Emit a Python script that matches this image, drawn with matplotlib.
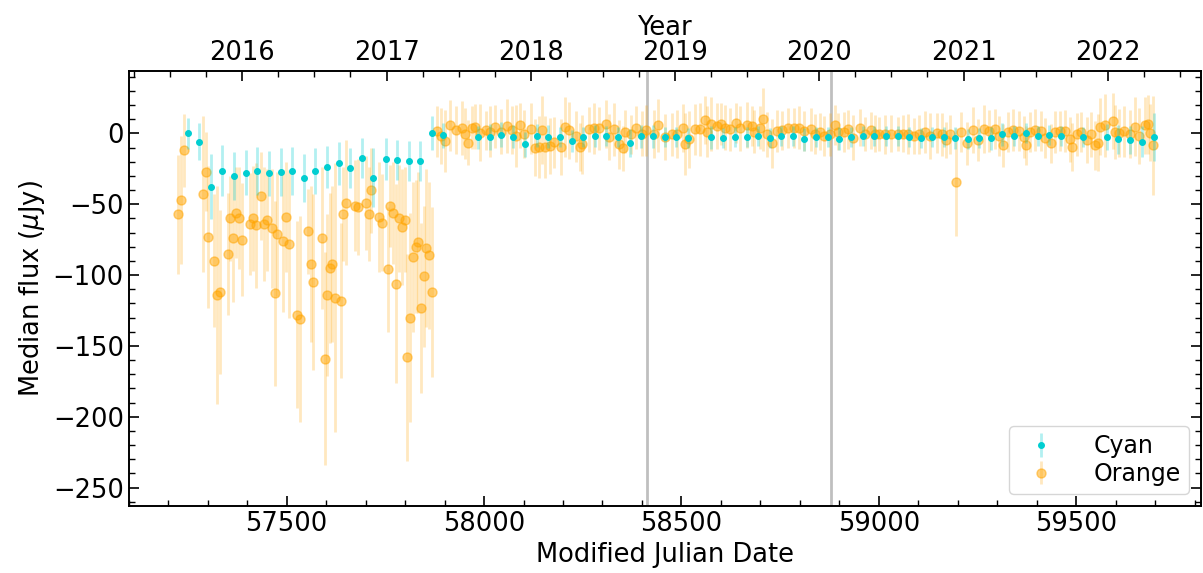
"""
Median flux light curve, cyan vs orange bands
"""
import numpy as np
import matplotlib.pyplot as plt
from matplotlib.ticker import MultipleLocator, FixedLocator

# cyan band: MJD, median flux (uJy), error
cyan_mjd = [57249, 57278, 57308, 57337, 57367, 57397, 57426, 57455, 57485, 57514,
            57544, 57573, 57601, 57632, 57661, 57691, 57720, 57751, 57780, 57810,
            57839, 57869, 57897, 57985, 58015, 58044, 58074, 58103, 58134, 58162,
            58192, 58222, 58251, 58281, 58310, 58340, 58369, 58398, 58427, 58458,
            58487, 58516, 58576, 58605, 58635, 58665, 58694, 58724, 58752, 58782,
            58811, 58841, 58870, 58900, 58930, 58959, 58989, 59018, 59048, 59077,
            59106, 59135, 59165, 59194, 59225, 59254, 59283, 59313, 59342, 59372,
            59402, 59431, 59461, 59518, 59578, 59607, 59637, 59666, 59696]
cyan_flux = [0.0, -5.9, -37.7, -26.4, -30.1, -27.8, -26.6, -28.2, -27.3, -26.4,
             -31.3, -26.6, -23.8, -21.2, -24.3, -17.2, -31.3, -18.1, -18.6, -19.5,
             -19.3, 0.0, -1.4, -2.8, -2.4, -0.9, -2.4, -7.8, -1.6, -2.4,
             -2.4, -5.4, -2.4, -1.9, -1.9, -2.4, -6.6, -2.1, -2.1, -2.8,
             -2.4, -3.3, -2.8, -3.1, -2.4, -2.8, -2.1, -3.5, -1.9, -1.9,
             -4.2, -2.6, -2.6, -3.8, -2.6, -2.1, -1.9, -2.1, -2.1, -2.6,
             -3.1, -2.8, -2.8, -3.3, -3.8, -3.3, -3.5, -0.7, -1.9, 0.2,
             -2.1, -0.9, -2.1, -2.8, -2.6, -4.2, -4.9, -5.9, -2.4]
cyan_err = [11, 13, 23, 18, 17, 16, 17, 16, 17, 17,
            17, 16, 15, 15, 14, 14, 21, 15, 14, 14,
            14, 12, 9, 8, 9, 9, 8, 9, 8, 8,
            7, 8, 7, 8, 7, 7, 10, 8, 8, 7,
            7, 7, 8, 7, 7, 7, 7, 7, 7, 7,
            8, 7, 7, 8, 7, 7, 7, 7, 7, 7,
            7, 7, 7, 8, 7, 7, 8, 8, 7, 7,
            7, 7, 7, 7, 9, 10, 10, 11, 17]

# orange band
orange_mjd = [57225, 57232, 57239, 57288, 57295, 57302, 57316, 57323, 57330, 57351,
              57357, 57365, 57372, 57379, 57386, 57406, 57415, 57422, 57434, 57442,
              57449, 57463, 57470, 57476, 57491, 57498, 57505, 57526, 57533, 57554,
              57561, 57568, 57589, 57596, 57602, 57609, 57616, 57623, 57637, 57644,
              57651, 57673, 57680, 57701, 57708, 57714, 57735, 57742, 57756, 57763,
              57770, 57778, 57784, 57792, 57799, 57806, 57813, 57820, 57827, 57833,
              57840, 57848, 57854, 57861, 57868,
              57881, 57890, 57901, 57915, 57930, 57943, 57953, 57960, 57970, 57978,
              57991, 58004, 58016, 58029, 58042, 58058, 58070, 58080, 58092, 58101,
              58120, 58129, 58139, 58147, 58154, 58168, 58177, 58196, 58205, 58215,
              58232, 58242, 58249, 58265, 58278, 58292, 58308, 58316, 58328, 58343,
              58351, 58358, 58373, 58385, 58401, 58411, 58430, 58441, 58459, 58475,
              58489, 58504, 58510, 58519, 58535, 58546, 58559, 58565, 58575, 58589,
              58600, 58611, 58624, 58637, 58649, 58665, 58679, 58685, 58700, 58707,
              58717, 58729, 58741, 58755, 58770, 58784, 58798, 58811, 58827, 58839,
              58852, 58862, 58877, 58889, 58896, 58913, 58921, 58934, 58953, 58964,
              58979, 58990, 59001, 59016, 59031, 59048, 59061, 59075, 59090, 59103,
              59116, 59130, 59147, 59160, 59170, 59181, 59196, 59209, 59223, 59238,
              59251, 59266, 59278, 59293, 59304, 59314, 59327, 59341, 59354, 59367,
              59372, 59384, 59395, 59410, 59421, 59435, 59446, 59458, 59471, 59483,
              59489, 59502, 59513, 59527, 59538, 59548, 59555, 59561, 59573, 59594,
              59599, 59609, 59622, 59637, 59650, 59658, 59673, 59682, 59688, 59694]
orange_flux = [-57, -47, -12, -43, -27, -73, -90, -114, -112, -85,
               -60, -74, -56, -60, -75, -64, -60, -65, -44, -64,
               -61, -67, -113, -71, -76, -59, -78, -128, -131, -69,
               -92, -105, -74, -159, -114, -95, -92, -116, -118, -57,
               -49, -51, -52, -49, -57, -40, -59, -63, -96, -51,
               -56, -106, -60, -66, -61, -158, -130, -87, -80, -77,
               -123, -101, -81, -86, -112,
               1.6, -1.9, -5.4, 5.9, 2.1, 4.0, -0.2, -6.6, 4.0, 4.7,
               0.5, 2.1, 1.2, 4.7, 1.2, 5.2, 2.1, -1.9, 5.6, -0.7,
               3.3, -10.1, -9.6, 2.1, -9.6, -8.9, -6.1, -9.6, 4.5, 2.1,
               -1.9, -9.6, -7.8, 2.8, 3.5, 3.5, 6.4, -2.6, 2.8, -7.8,
               -10.6, 1.2, -0.7, 4.0, -0.2, 2.1, -0.7, 5.6, -2.6, -0.7,
               -0.7, 4.0, -7.3, -4.2, 2.8, 2.8, 9.2, 1.2, 6.8, 5.2,
               6.8, 4.0, 2.8, 7.5, 3.5, 5.9, 5.2, 1.2, 4.0, 9.9,
               -0.7, -7.1, 1.6, 2.1, 4.0, 4.0, 4.0, 1.6, 2.8, -0.2,
               1.2, -1.9, -0.7, 5.9, 1.2, 1.2, 2.8, -3.1, 4.0, -0.2,
               2.1, -0.2, -0.2, -0.7, -0.2, -0.2, -0.2, -0.2, -1.9, -0.7,
               0.9, -1.9, 0.5, -0.7, -4.7, -0.7, -34.4, 0.9, -7.1, 2.4,
               -4.7, 3.3, 1.6, 3.3, -1.9, -8.5, 0.9, 2.4, 1.6, -2.4,
               -8.5, 0.9, 2.4, 1.6, -3.1, -7.1, 0.9, 1.6, 1.6, -4.2,
               -9.4, -0.7, 0.9, -4.7, -0.7, -8.5, -6.6, 4.7, 5.6, 8.7,
               0.9, 0.5, 1.6, -0.7, 4.7, -1.9, 5.6, 6.4, 0.5, -8.5]
orange_err = [42, 45, 26, 55, 28, 50, 47, 77, 58, 43,
              30, 45, 32, 36, 40, 36, 37, 44, 31, 40,
              36, 42, 65, 44, 50, 39, 52, 66, 73, 30,
              55, 62, 50, 75, 57, 53, 55, 95, 55, 33,
              44, 32, 34, 33, 33, 30, 39, 34, 44, 29,
              36, 70, 38, 41, 37, 73, 74, 53, 47, 50,
              60, 50, 56, 52, 60,
              18, 20, 22, 18, 17, 19, 18, 16, 15, 16,
              20, 14, 18, 15, 16, 19, 17, 22, 16, 17,
              18, 20, 22, 24, 22, 20, 18, 20, 21, 20,
              18, 17, 21, 16, 18, 15, 17, 16, 19, 17,
              16, 15, 14, 15, 16, 18, 17, 19, 16, 15,
              17, 17, 22, 20, 18, 19, 17, 18, 19, 16,
              15, 16, 15, 14, 16, 16, 14, 15, 15, 22,
              16, 17, 15, 14, 14, 14, 15, 14, 15, 14,
              13, 14, 15, 14, 13, 14, 14, 16, 13, 12,
              13, 13, 12, 14, 13, 12, 13, 14, 13, 14,
              15, 16, 14, 15, 13, 14, 38, 14, 15, 16,
              15, 17, 15, 14, 14, 15, 14, 15, 14, 15,
              14, 14, 15, 14, 14, 14, 15, 14, 15, 16,
              17, 15, 14, 16, 16, 17, 20, 20, 22, 20,
              19, 17, 18, 17, 21, 20, 20, 21, 20, 35]

year_labels = ["2016", "2017", "2018", "2019", "2020", "2021", "2022"]
year_mjd = [57388, 57754, 58119, 58484, 58849, 59215, 59580]
special_mjd = [58414, 58880]

plt.rcParams["font.size"] = 18.5

fig = plt.figure(figsize=(12.03, 5.73), dpi=100)
ax = fig.add_axes([0.107, 0.117, 0.891, 0.759])

oc = ax.errorbar(orange_mjd, orange_flux, yerr=orange_err, fmt="o", color="orange",
                 ms=6.5, alpha=0.5, elinewidth=2, capsize=0, label="Orange", zorder=2)
for line in oc[2]:
    line.set_alpha(0.25)
cc = ax.errorbar(cyan_mjd, cyan_flux, yerr=cyan_err, fmt="o", color="darkturquoise",
                 ms=4, elinewidth=2, capsize=0, label="Cyan", zorder=3)
for line in cc[2]:
    line.set_alpha(0.3)

for m in special_mjd:
    ax.axvline(m, color="gray", alpha=0.5, lw=2, zorder=1)

ax.set_xlim(57100, 59815)
ax.set_ylim(-263, 44)
ax.xaxis.set_major_locator(MultipleLocator(500))
ax.xaxis.set_minor_locator(MultipleLocator(100))
ax.yaxis.set_major_locator(MultipleLocator(50))
ax.yaxis.set_minor_locator(MultipleLocator(10))
ax.tick_params(which="both", direction="in", right=True)
ax.tick_params(which="major", length=7, width=1.2)
ax.tick_params(which="minor", length=4, width=1)
ax.set_xlabel("Modified Julian Date")
ax.set_ylabel(r"Median flux ($\mu$Jy)")

ax2 = ax.twiny()
ax2.set_xlim(ax.get_xlim())
ax2.set_xticks(year_mjd)
ax2.set_xticklabels(year_labels)
quarters = [y + q for y in [57023] + year_mjd for q in (91, 182, 273)]
ax2.xaxis.set_minor_locator(FixedLocator(quarters))
ax2.tick_params(which="both", direction="in")
ax2.tick_params(which="major", length=7, width=1.2)
ax2.tick_params(which="minor", length=4, width=1)
ax2.set_xlabel("Year")

for s in list(ax.spines.values()) + list(ax2.spines.values()):
    s.set_linewidth(1.2)

handles, labels = ax.get_legend_handles_labels()
ax.legend(handles[::-1], labels[::-1], loc="lower right", fontsize=17,
          labelspacing=0.15, borderpad=0.35, handletextpad=1.2)

fig.savefig("out.png", dpi=100)
